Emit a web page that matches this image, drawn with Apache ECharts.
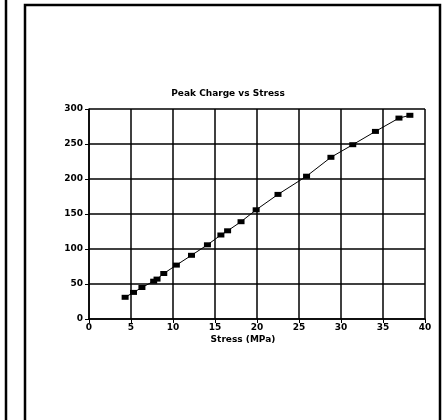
<!DOCTYPE html>
<html>
<head>
<meta charset="utf-8">
<script src="https://cdn.jsdelivr.net/npm/echarts@6/dist/echarts.min.js"></script>
<style>
  html, body { margin: 0; padding: 0; background: #fff; }
  #chart { width: 443px; height: 420px; }
</style>
</head>
<body>
<div id="chart"></div>
<script>
// Peak charge vs stress
let stressMPa = [4.3, 5.3, 6.3, 7.7, 8.1, 8.9, 10.4, 12.2, 14.1, 15.7, 16.5, 18.1, 19.9, 22.5, 25.9, 28.8, 31.4, 34.1, 36.9, 38.2];
let peakCharge = [31, 38, 45, 54, 57, 65, 77, 91, 106, 120, 126, 139, 156, 178, 204, 231, 249, 268, 287, 291];
let xTicks = [0, 5, 10, 15, 20, 25, 30, 35, 40];
let yTicks = [0, 50, 100, 150, 200, 250, 300];

let chart = echarts.init(document.getElementById('chart'));

let labelFont = {
    color: '#000',
    fontFamily: 'DejaVu Sans',
    fontWeight: 'bold',
    fontSize: 9,
};

let option = {
    animation: false,
    backgroundColor: '#fff',

    title: {
        text: 'Peak Charge vs Stress',
        left: 223,
        top: 84,
        textAlign: 'center',
        textStyle: {
            color: '#000',
            fontFamily: 'DejaVu Sans',
            fontWeight: 'bold',
            fontSize: 9,
        },
    },

    grid: { left: 89, right: 18, top: 109, bottom: 101 },

    xAxis: {
        type: 'value',
        min: xTicks[0],
        max: xTicks[xTicks.length - 1],
        interval: 5,
        name: 'Stress (MPa)',
        nameLocation: 'middle',
        nameGap: 16,
        nameTextStyle: Object.assign({}, labelFont, { padding: [0, 0, 0, -28] }),
        axisLine: { lineStyle: { color: '#000', width: 1.5 } },
        axisTick: { show: true, length: 4, lineStyle: { color: '#000' } },
        axisLabel: Object.assign({ margin: 4 }, labelFont),
        splitLine: { lineStyle: { color: '#000', width: 1.5 } },
    },

    yAxis: {
        type: 'value',
        min: yTicks[0],
        max: yTicks[yTicks.length - 1],
        interval: 50,
        axisLine: { show: true, lineStyle: { color: '#000', width: 1.5 } },
        axisTick: { show: true, length: 4, lineStyle: { color: '#000' } },
        axisLabel: Object.assign({ margin: 6 }, labelFont),
        splitLine: { lineStyle: { color: '#000', width: 1.5 } },
    },

    series: [
        {
            name: 'Peak Charge',
            type: 'line',
            data: stressMPa.map(function (s, i) {
                return [s, peakCharge[i]];
            }),
            symbol: 'rect',
            symbolSize: [7, 5],
            itemStyle: { color: '#000' },
            lineStyle: { color: '#000', width: 1 },
        },
    ],

    // page frame from the scan
    graphic: [
        {
            type: 'rect',
            shape: { x: 25, y: 5, width: 415, height: 430 },
            style: { fill: 'none', stroke: '#000', lineWidth: 2.5 },
            z: 100,
        },
        {
            type: 'line',
            shape: { x1: 6, y1: 0, x2: 6, y2: 420 },
            style: { stroke: '#000', lineWidth: 2.5 },
            z: 100,
        },
    ],
};

chart.setOption(option);
</script>
</body>
</html>
